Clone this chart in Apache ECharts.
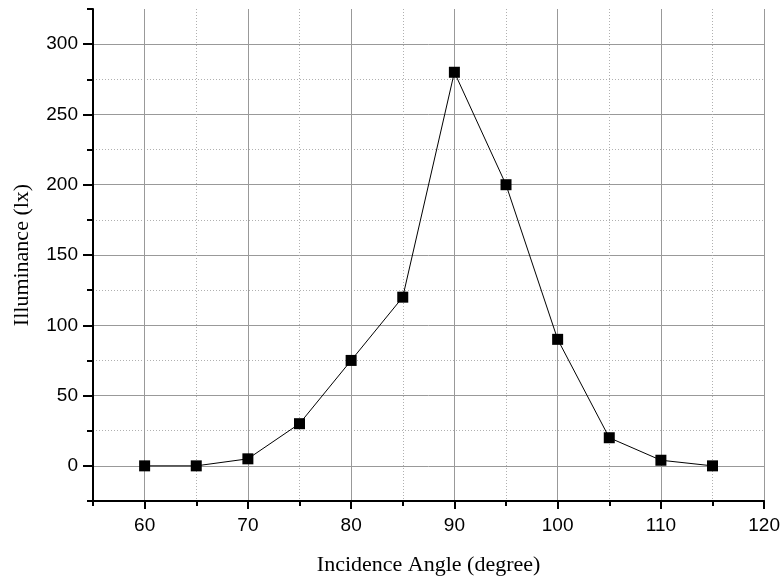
<!DOCTYPE html>
<html>
<head>
<meta charset="utf-8">
<script src="https://cdn.jsdelivr.net/npm/echarts@6/dist/echarts.min.js"></script>
<style>html,body{margin:0;padding:0;background:#fff}#c{width:783px;height:581px}</style>
</head>
<body>
<div id="c"></div>
<script>
const angles = [60, 65, 70, 75, 80, 85, 90, 95, 100, 105, 110, 115];
const illuminance = [0, 0, 5, 30, 75, 120, 280, 200, 90, 20, 4, 0];
const xMajorTicks = [60, 70, 80, 90, 100, 110, 120];
const yMajorTicks = [0, 50, 100, 150, 200, 250, 300];

const chart = echarts.init(document.getElementById('c'), null, {renderer: 'canvas'});
const labelFont = {color: '#000', fontFamily: 'Liberation Sans, Arial, sans-serif', fontSize: 19};
const nameFont = {color: '#000', fontFamily: 'Liberation Serif, Times New Roman, serif', fontSize: 22};

chart.setOption({
  animation: false,
  backgroundColor: '#fff',
  grid: {left: 93, right: 16, top: 9, bottom: 77, containLabel: false},
  xAxis: [{
    type: 'value', min: 55, max: 120, interval: 5,
    name: 'Incidence Angle (degree)', nameLocation: 'middle', nameGap: 53, nameTextStyle: nameFont,
    axisLine: {show: true, onZero: false, lineStyle: {color: '#000', width: 2}},
    axisTick: {show: true, length: 5, lineStyle: {color: '#000', width: 2}},
    axisLabel: {show: false},
    splitLine: {show: true, showMinLine: false, lineStyle: {color: '#b0b0b0', type: [1, 2], width: 1}}
  }, {
    type: 'value', min: 55, max: 120, interval: 5, position: 'bottom',
    axisLine: {show: false, onZero: false},
    axisTick: {show: true, length: 8, customValues: xMajorTicks, lineStyle: {color: '#000', width: 2}},
    axisLabel: {show: true, customValues: xMajorTicks, margin: 15, ...labelFont},
    splitLine: {show: true, lineStyle: {color: '#999', type: 'solid', width: 1}}
  }],
  yAxis: [{
    type: 'value', min: -25, max: 325, interval: 25,
    name: 'Illuminance (lx)', nameLocation: 'middle', nameGap: 60, nameTextStyle: nameFont,
    axisLine: {show: true, onZero: false, lineStyle: {color: '#000', width: 2}},
    axisTick: {show: true, length: 6, lineStyle: {color: '#000', width: 2}},
    axisLabel: {show: false},
    splitLine: {show: true, showMinLine: false, showMaxLine: false, lineStyle: {color: '#b0b0b0', type: [1, 2], width: 1}}
  }, {
    type: 'value', min: -25, max: 325, interval: 25, position: 'left',
    axisLine: {show: false, onZero: false},
    axisTick: {show: true, length: 10, customValues: yMajorTicks, lineStyle: {color: '#000', width: 2}},
    axisLabel: {show: true, customValues: yMajorTicks, margin: 15, ...labelFont},
    splitLine: {show: true, lineStyle: {color: '#999', type: 'solid', width: 1}}
  }],
  series: [{
    type: 'line',
    data: angles.map((a, i) => [a, illuminance[i]]),
    xAxisIndex: 0, yAxisIndex: 0,
    symbol: 'rect', symbolSize: 11,
    itemStyle: {color: '#000'},
    lineStyle: {color: '#000', width: 1},
    z: 10
  }]
});
</script>
</body>
</html>
